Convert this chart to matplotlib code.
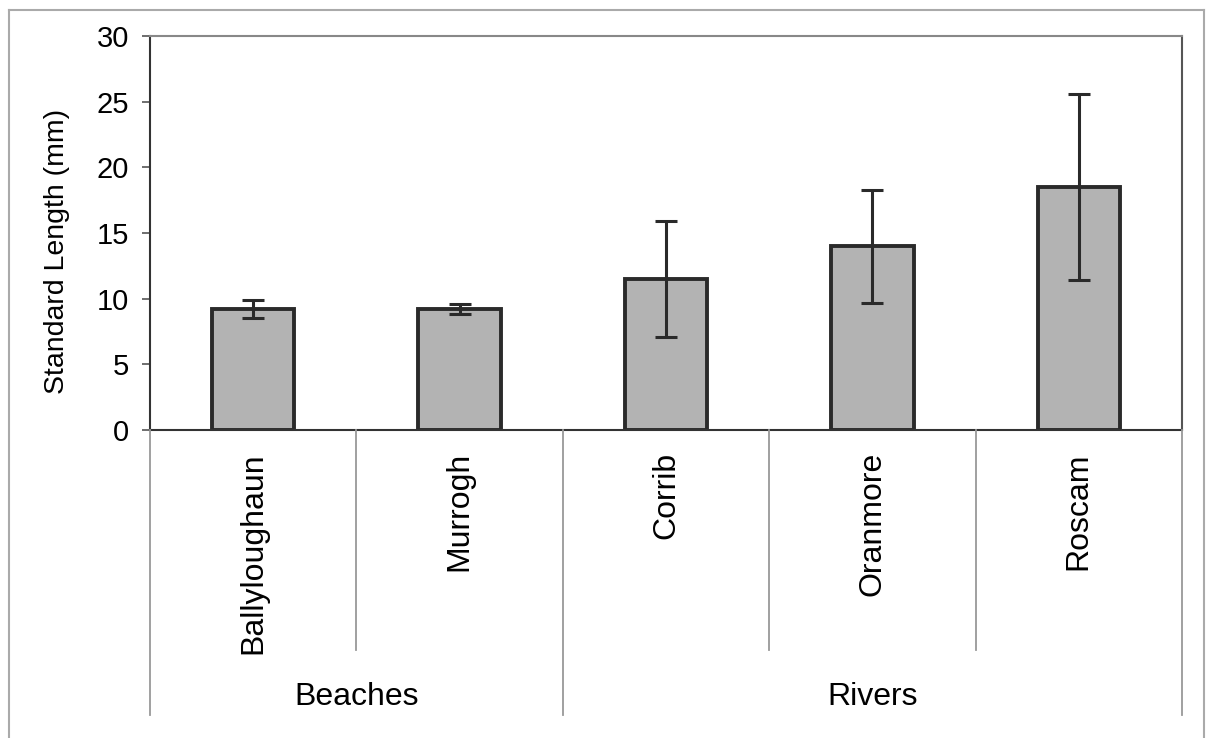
import matplotlib.pyplot as plt
from matplotlib.lines import Line2D

plt.rcParams['font.family'] = ['Liberation Sans', 'DejaVu Sans']

# dati
siti = ['Ballyloughaun', 'Murrogh', 'Corrib', 'Oranmore', 'Roscam']
gruppi = ['Beaches', 'Rivers']
siti_per_gruppo = [2, 3]
lunghezza = [9.2, 9.2, 11.5, 14.0, 18.5]
errore = [0.7, 0.4, 4.4, 4.3, 7.1]

W, H = 1206, 738
fig = plt.figure(figsize=(W / 100, H / 100), dpi=100)
ax = fig.add_axes([150 / W, 1 - 430 / H, 1032 / W, 394 / H])

x = list(range(len(siti)))
ax.bar(x, lunghezza, width=0.4, color='#b3b3b3', edgecolor='#2a2a2a', linewidth=2.8, zorder=2)
ax.errorbar(x, lunghezza, yerr=errore, fmt='none', ecolor='#2a2a2a', elinewidth=2.2,
            capsize=8, capthick=2.2, zorder=3)

ax.set_xlim(-0.5, len(siti) - 0.5)
ax.set_ylim(0, 30)
ax.set_yticks(range(0, 31, 5))
ax.set_xticks([])
ax.tick_params(axis='y', labelsize=21, length=6, width=1.2, color='#555555', pad=9)

ax.spines['left'].set_color('#333333')
ax.spines['left'].set_linewidth(1.5)
ax.spines['bottom'].set_color('#333333')
ax.spines['bottom'].set_linewidth(1.5)
ax.spines['top'].set_color('#888888')
ax.spines['top'].set_linewidth(1.5)
ax.spines['right'].set_color('#555555')
ax.spines['right'].set_linewidth(1.5)

def fy(py):
    return 1 - py / H

# titolo asse y (un po' più in basso del centro, come nell'originale)
fig.text(57 / W, fy(251), 'Standard Length (mm)', rotation=90, ha='center', va='center', fontsize=20.5)

# etichette delle categorie (ruotate)
for i, nome in enumerate(siti):
    fx = (150 + (i + 0.5) * 1032 / len(siti)) / W
    fig.text(fx, fy(452), nome, rotation=90, ha='center', va='top', fontsize=23)

# linee di separazione sotto l'asse
confini = [0]
for n in siti_per_gruppo:
    confini.append(confini[-1] + n)
for k in range(len(siti) + 1):
    px = 150 + k * 1032 / len(siti)
    fine = 715 if k in confini else 650
    fig.add_artist(Line2D([px / W, px / W], [fy(430), fy(fine)], color='#999999', linewidth=1.3))

for g, nome in enumerate(gruppi):
    centro = 150 + (confini[g] + confini[g + 1]) / 2 * 1032 / len(siti)
    fig.text(centro / W, fy(697), nome, ha='center', va='center', fontsize=23)

# cornice esterna
bordo = '#aaaaaa'
fig.add_artist(Line2D([9 / W, 9 / W], [fy(10), 0], color=bordo, linewidth=1.5))
fig.add_artist(Line2D([9 / W, 1204 / W], [fy(10), fy(10)], color=bordo, linewidth=1.5))
fig.add_artist(Line2D([1204 / W, 1204 / W], [fy(10), 0], color=bordo, linewidth=1.5))

plt.savefig('out.png', dpi=100)
